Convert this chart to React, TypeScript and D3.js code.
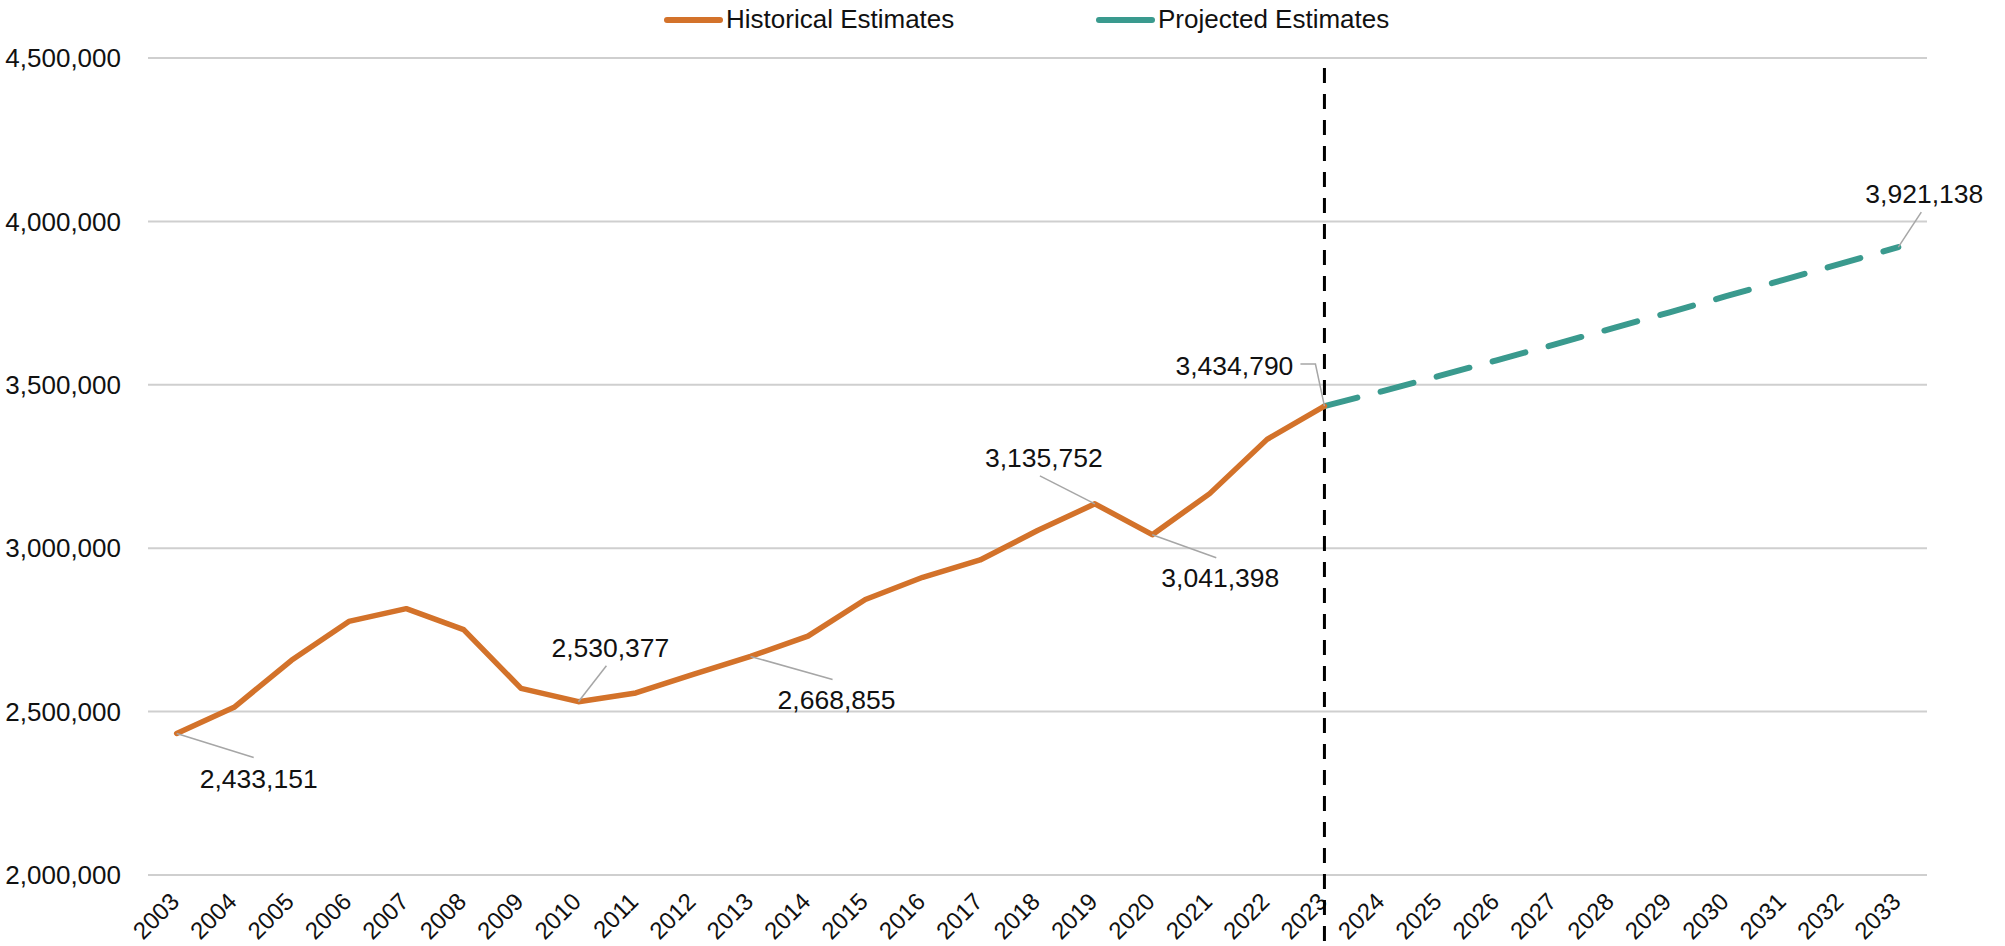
import React, { useEffect, useRef } from 'react';
import * as d3 from 'd3';

const years = d3.range(2003, 2034).map(String);

const historicalYears = [
  '2003', '2004', '2005', '2006', '2007', '2008', '2009', '2010', '2011', '2012', '2013',
  '2014', '2015', '2016', '2017', '2018', '2019', '2020', '2021', '2022', '2023',
];
const historicalValues = [
  2433151, 2513000, 2657000, 2776000, 2815000, 2751000, 2571000, 2530377, 2557000, 2614000, 2668855,
  2731000, 2843000, 2911000, 2964000, 3054000, 3135752, 3041398, 3167000, 3333000, 3434790,
];

const projectedYears = ['2023', '2024', '2025', '2026', '2027', '2028', '2029', '2030', '2031', '2032', '2033'];
const projectedValues = [3434790, 3480000, 3527000, 3575000, 3623000, 3672000, 3721000, 3771000, 3821000, 3871000, 3921138];

const yTicks = [2000000, 2500000, 3000000, 3500000, 4000000, 4500000];

const labelledYears = ['2003', '2010', '2013', '2019', '2020', '2023', '2033'];

// label placement relative to the point: text centre, then leader line bend points
const labelLayout = [
  { text: [82, 45], leader: [[77, 24]] },
  { text: [32, -54], leader: [[28, -36]] },
  { text: [86, 43], leader: [[82, 23]] },
  { text: [-51, -46], leader: [[-55, -28]] },
  { text: [68, 43], leader: [[64, 23]] },
  { text: [-90, -40], leader: [[-9, -42], [-24, -42]] },
  { text: [26, -53], leader: [[23, -35]] },
];

const ORANGE = '#D3722A';
const TEAL = '#3A9A8E';
const FONT = '"Liberation Sans", Arial, sans-serif';

const App = () => {
  const ref = useRef<SVGSVGElement>(null);

  useEffect(() => {
    const svg = d3.select(ref.current);
    svg.selectAll('*').remove();

    const left = 148;
    const right = 1927;
    const top = 58;
    const bottom = 875;

    const x = d3.scalePoint<string>().domain(years).range([left, right]).padding(0.5);
    const y = d3.scaleLinear().domain([2000000, 4500000]).range([bottom, top]);
    const fmt = d3.format(',');

    // gridlines
    svg.append('g')
      .selectAll('line')
      .data(yTicks)
      .join('line')
      .attr('x1', left)
      .attr('x2', right)
      .attr('y1', d => y(d))
      .attr('y2', d => y(d))
      .attr('stroke', '#cfcfcf')
      .attr('stroke-width', 2);

    // y tick labels
    svg.append('g')
      .selectAll('text')
      .data(yTicks)
      .join('text')
      .attr('x', 121)
      .attr('y', d => y(d))
      .attr('dy', '0.35em')
      .attr('text-anchor', 'end')
      .style('font-family', FONT)
      .style('font-size', '26px')
      .attr('fill', '#111')
      .text(d => fmt(d));

    // x tick labels, rotated
    svg.append('g')
      .selectAll('text')
      .data(years)
      .join('text')
      .attr('transform', d => `translate(${x(d)! + 4},${bottom + 28}) rotate(-45)`)
      .attr('text-anchor', 'end')
      .style('font-family', FONT)
      .style('font-size', '24px')
      .attr('fill', '#111')
      .text(d => d);

    // divider between historical and projected
    svg.append('line')
      .attr('x1', x('2023')!)
      .attr('x2', x('2023')!)
      .attr('y1', 68)
      .attr('y2', 944)
      .attr('stroke', '#000')
      .attr('stroke-width', 3)
      .attr('stroke-dasharray', '15 11');

    const seriesLine = d3.line<[string, number]>()
      .x(d => x(d[0])!)
      .y(d => y(d[1]));

    svg.append('path')
      .datum(projectedYears.map((yr, i) => [yr, projectedValues[i]] as [string, number]))
      .attr('fill', 'none')
      .attr('stroke', TEAL)
      .attr('stroke-width', 6)
      .attr('stroke-linecap', 'round')
      .attr('stroke-dasharray', '34 24')
      .attr('d', seriesLine);

    svg.append('path')
      .datum(historicalYears.map((yr, i) => [yr, historicalValues[i]] as [string, number]))
      .attr('fill', 'none')
      .attr('stroke', ORANGE)
      .attr('stroke-width', 5.5)
      .attr('stroke-linejoin', 'round')
      .attr('stroke-linecap', 'round')
      .attr('d', seriesLine);

    // data labels with leader lines
    const valueOf = (yr: string) => {
      const h = historicalYears.indexOf(yr);
      return h >= 0 ? historicalValues[h] : projectedValues[projectedYears.indexOf(yr)];
    };

    const labels = svg.append('g');
    labelledYears.forEach((yr, i) => {
      const v = valueOf(yr);
      const px = x(yr)!;
      const py = y(v);
      const lay = labelLayout[i];
      const pts: [number, number][] = [[px, py], ...lay.leader.map(p => [px + p[0], py + p[1]] as [number, number])];
      labels.append('path')
        .attr('d', d3.line()(pts))
        .attr('fill', 'none')
        .attr('stroke', '#a6a6a6')
        .attr('stroke-width', 1.5);
      labels.append('text')
        .attr('x', px + lay.text[0])
        .attr('y', py + lay.text[1])
        .attr('dy', '0.35em')
        .attr('text-anchor', 'middle')
        .style('font-family', FONT)
        .style('font-size', '26.5px')
        .attr('fill', '#111')
        .text(fmt(v));
    });

    // legend
    const legend = svg.append('g');
    const items = [
      { name: 'Historical Estimates', color: ORANGE, x: 665 },
      { name: 'Projected Estimates', color: TEAL, x: 1097 },
    ];
    items.forEach(it => {
      legend.append('line')
        .attr('x1', it.x + 2)
        .attr('x2', it.x + 55)
        .attr('y1', 20)
        .attr('y2', 20)
        .attr('stroke', it.color)
        .attr('stroke-width', 6)
        .attr('stroke-linecap', 'round');
      legend.append('text')
        .attr('x', it.x + 61)
        .attr('y', 19)
        .attr('dy', '0.35em')
        .style('font-family', FONT)
        .style('font-size', '26px')
        .attr('fill', '#111')
        .text(it.name);
    });
  }, []);

  return (
    <svg
      ref={ref}
      width={2005}
      height={946}
      style={{ position: 'absolute', left: 0, top: 0, background: '#fff' }}
    />
  );
};

export default App;
